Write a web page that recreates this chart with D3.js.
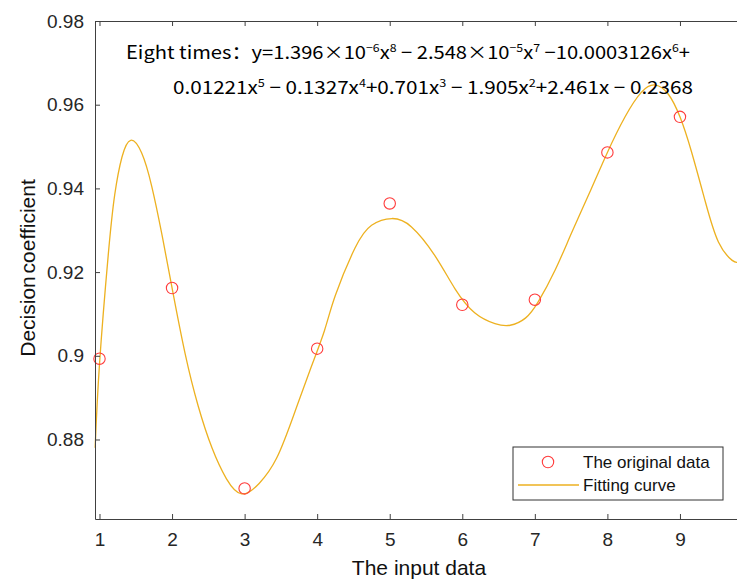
<!DOCTYPE html>
<html>
<head>
<meta charset="utf-8">
<script src="https://cdn.jsdelivr.net/npm/d3@7"></script>
<style>
  body { margin: 0; background: #fff; }
  svg { display: block; }
</style>
</head>
<body>
<svg id="chart" width="737" height="581"></svg>
<script>
// original data (circles)
var inputX = [1, 2, 3, 4, 5, 6, 7, 8, 9];
var decisionY = [0.8993, 0.9162, 0.8683, 0.9017, 0.9364, 0.9122, 0.9134, 0.9486, 0.9571];

// fitting curve
var fitX = [0.94, 1.0, 1.12, 1.21, 1.31, 1.43, 1.58, 1.72, 1.86, 2.0, 2.18, 2.36, 2.55, 2.75, 2.96,
  3.2, 3.44, 3.67, 3.9, 4.1, 4.25, 4.52, 4.75, 5.03, 5.3, 5.62, 5.9, 6.17, 6.45, 6.66, 6.87, 7.05,
  7.28, 7.51, 7.78, 8.0, 8.24, 8.47, 8.66, 8.84, 9.0, 9.16, 9.35, 9.53, 9.72, 9.8];
var fitY = [0.878, 0.898, 0.924, 0.9385, 0.9475, 0.9515, 0.9485, 0.9405, 0.929, 0.9162, 0.9005, 0.888, 0.878, 0.8706, 0.867,
  0.8695, 0.8755, 0.8855, 0.8965, 0.906, 0.9144, 0.9257, 0.9312, 0.9328, 0.9308, 0.924, 0.916, 0.9103, 0.9077, 0.9073, 0.909, 0.913,
  0.9205, 0.9295, 0.940, 0.9486, 0.957, 0.963, 0.9647, 0.9625, 0.9571, 0.9487, 0.9368, 0.9272, 0.9228, 0.9224];

var xTicks = [1, 2, 3, 4, 5, 6, 7, 8, 9];
var yTicks = [0.88, 0.9, 0.92, 0.94, 0.96, 0.98];

var legendLabels = ["The original data", "Fitting curve"];

// equation text, [text, superscript?]
var eqLine1 = [["Eight times：y=1.396×10", 0], ["−6", 1], ["x", 0], ["8", 1], [" − 2.548×10", 0], ["−5", 1],
  ["x", 0], ["7", 1], [" −10.0003126x", 0], ["6", 1], ["+", 0]];
var eqLine2 = [["0.01221x", 0], ["5", 1], [" − 0.1327x", 0], ["4", 1], ["+0.701x", 0], ["3", 1],
  [" − 1.905x", 0], ["2", 1], ["+2.461x − 0.2368", 0]];

var axisColor = "#404040";
var textColor = "#262626";
var curveColor = "#EDB120";
var dotColor = "#FF3B3B";
var fontAx = "'Liberation Sans', Arial, sans-serif";

var svg = d3.select("#chart");

var plotL = 95, plotR = 738, plotT = 21, plotB = 519;

var x = d3.scaleLinear().domain([0.938, 9.8]).range([plotL, plotR]);
var y = d3.scaleLinear().domain([0.861, 0.98]).range([plotB, plotT]);

// curve
var line = d3.line()
  .x(function(d) { return x(d[0]); })
  .y(function(d) { return y(d[1]); })
  .curve(d3.curveNatural);

svg.append("path")
  .datum(d3.zip(fitX, fitY))
  .attr("d", line)
  .attr("fill", "none")
  .attr("stroke", curveColor)
  .attr("stroke-width", 1.3);

// data circles
svg.selectAll("circle.dot")
  .data(d3.zip(inputX, decisionY))
  .enter().append("circle")
  .attr("class", "dot")
  .attr("cx", function(d) { return x(d[0]); })
  .attr("cy", function(d) { return y(d[1]); })
  .attr("r", 5.7)
  .attr("fill", "none")
  .attr("stroke", dotColor)
  .attr("stroke-width", 1.1);

// axes, ticks inward like matlab
function styleAxis(g) {
  g.select(".domain").attr("stroke", axisColor).attr("stroke-width", 1);
  g.selectAll(".tick line").attr("stroke", axisColor);
  g.selectAll(".tick text")
    .attr("fill", textColor)
    .style("font-family", fontAx)
    .style("font-size", "19px");
}

svg.append("g")
  .attr("transform", "translate(0," + plotB + ")")
  .call(d3.axisBottom(x).tickValues(xTicks).tickFormat(d3.format("d")).tickSizeInner(-5).tickSizeOuter(0).tickPadding(14))
  .call(styleAxis);

svg.append("g")
  .attr("transform", "translate(0," + plotT + ")")
  .call(d3.axisTop(x).tickValues(xTicks).tickFormat("").tickSizeInner(-5).tickSizeOuter(0))
  .call(styleAxis);

svg.append("g")
  .attr("transform", "translate(" + plotL + ",0)")
  .call(d3.axisLeft(y).tickValues(yTicks).tickFormat(function(d) { return String(+d.toFixed(2)); }).tickSizeInner(-5).tickSizeOuter(0).tickPadding(11))
  .call(styleAxis);

// axis titles
svg.append("text")
  .attr("x", 419).attr("y", 575)
  .attr("text-anchor", "middle")
  .attr("fill", "#111")
  .style("font-family", fontAx)
  .style("font-size", "21px")
  .text("The input data");

svg.append("text")
  .attr("transform", "translate(35,268) rotate(-90)")
  .attr("text-anchor", "middle")
  .attr("fill", "#111")
  .style("font-family", fontAx)
  .style("font-size", "21px")
  .style("word-spacing", "-3px")
  .text("Decision coefficient");

// equation
function eqText(parts, x0, y0, len) {
  var t = svg.append("text")
    .attr("x", x0).attr("y", y0)
    .attr("fill", "#000")
    .attr("textLength", len)
    .attr("lengthAdjust", "spacingAndGlyphs")
    .style("font-family", "'Noto Sans CJK SC', 'Noto Sans', sans-serif")
    .style("font-size", "18px");
  var up = false;
  parts.forEach(function(p) {
    var s = t.append("tspan").text(p[0]);
    if (p[1] && !up) { s.attr("dy", -7).style("font-size", "11px"); up = true; }
    else if (p[1]) { s.style("font-size", "11px"); }
    else if (up) { s.attr("dy", 7); up = false; }
  });
}
eqText(eqLine1, 126, 59, 564);
eqText(eqLine2, 173, 94, 520);

// legend
var lg = svg.append("g").attr("transform", "translate(513,447)");
lg.append("rect")
  .attr("width", 210).attr("height", 53)
  .attr("fill", "#fff")
  .attr("stroke", "#333")
  .attr("stroke-width", 1);
lg.append("circle")
  .attr("cx", 35).attr("cy", 15).attr("r", 5.7)
  .attr("fill", "none").attr("stroke", dotColor).attr("stroke-width", 1.1);
lg.append("line")
  .attr("x1", 5).attr("x2", 66).attr("y1", 38).attr("y2", 38)
  .attr("stroke", curveColor).attr("stroke-width", 1.3);
lg.selectAll("text.lab")
  .data(legendLabels)
  .enter().append("text")
  .attr("class", "lab")
  .attr("x", 70)
  .attr("y", function(d, i) { return 21 + i * 23; })
  .attr("fill", "#111")
  .style("font-family", fontAx)
  .style("font-size", "17px")
  .text(function(d) { return d; });
</script>
</body>
</html>
